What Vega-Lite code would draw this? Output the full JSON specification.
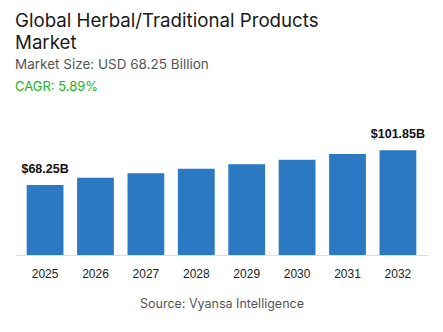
{
  "$schema": "https://vega.github.io/schema/vega-lite/v6.json",
  "background": "white",
  "autosize": {"type": "pad"},
  "padding": {"left": 15, "right": 15, "top": 12, "bottom": 24},
  "title": {
    "text": ["Global Herbal/Traditional Products", "Market"],
    "subtitle": "Market Size: USD 68.25 Billion",
    "anchor": "start",
    "font": "Inter",
    "fontSize": 18.7,
    "fontWeight": 400,
    "lineHeight": 22,
    "color": "#1a1a1a",
    "subtitleFont": "Inter",
    "subtitleFontSize": 13.5,
    "subtitleColor": "#555555",
    "subtitlePadding": 5,
    "offset": 10
  },
  "data": {
    "values": [
      {"year": "2025", "value": 68.25},
      {"year": "2026", "value": 75.1},
      {"year": "2027", "value": 79.7},
      {"year": "2028", "value": 83.9},
      {"year": "2029", "value": 88.4},
      {"year": "2030", "value": 92.6},
      {"year": "2031", "value": 98.2},
      {"year": "2032", "value": 101.85}
    ]
  },
  "vconcat": [
    {
      "width": 413,
      "height": 113,
      "title": {
        "text": "CAGR: 5.89%",
        "anchor": "start",
        "font": "Inter",
        "fontSize": 13,
        "fontWeight": 400,
        "color": "#22b422",
        "offset": 34
      },
      "encoding": {
        "x": {
          "field": "year",
          "type": "ordinal",
          "scale": {"paddingInner": 0.27, "paddingOuter": 0.232},
          "axis": {
            "labelAngle": 0,
            "labelFont": "Liberation Sans",
            "labelFontSize": 12,
            "labelColor": "#222222",
            "labelPadding": 13,
            "ticks": false,
            "domainColor": "#dddddd",
            "title": "Source: Vyansa Intelligence",
            "titleFont": "Inter",
            "titleFontSize": 12.5,
            "titleFontWeight": 400,
            "titleColor": "#555555",
            "titlePadding": 18
          }
        },
        "y": {
          "field": "value",
          "type": "quantitative",
          "scale": {"domain": [0, 110]},
          "axis": null
        }
      },
      "layer": [
        {"mark": {"type": "bar", "color": "#2b78c3"}},
        {
          "transform": [
            {"filter": "datum.year == '2025' || datum.year == '2032'"},
            {"calculate": "'$' + format(datum.value, '.2f') + 'B'", "as": "label"}
          ],
          "mark": {
            "type": "text",
            "baseline": "alphabetic",
            "dy": -12,
            "font": "Liberation Sans",
            "fontSize": 12.5,
            "fontWeight": "bold",
            "color": "#111111"
          },
          "encoding": {"text": {"field": "label"}}
        }
      ]
    }
  ],
  "config": {"view": {"stroke": null}}
}
